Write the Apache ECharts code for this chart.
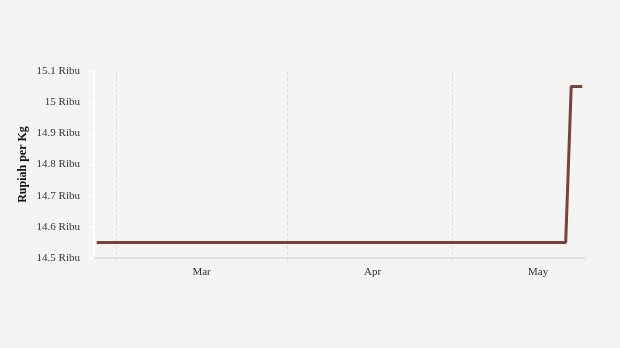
<!DOCTYPE html>
<html><head><meta charset="utf-8">
<script src="https://cdn.jsdelivr.net/npm/echarts@6/dist/echarts.min.js"></script>
<style>html,body{margin:0;padding:0;background:#f4f4f4}#c{width:620px;height:348px}</style>
</head><body><div id="c"></div>
<script>
const dates = [
 '2023-02-25','2023-02-26','2023-02-27','2023-02-28',
 '2023-03-01','2023-03-02','2023-03-03','2023-03-04','2023-03-05','2023-03-06','2023-03-07','2023-03-08','2023-03-09','2023-03-10',
 '2023-03-11','2023-03-12','2023-03-13','2023-03-14','2023-03-15','2023-03-16','2023-03-17','2023-03-18','2023-03-19','2023-03-20',
 '2023-03-21','2023-03-22','2023-03-23','2023-03-24','2023-03-25','2023-03-26','2023-03-27','2023-03-28','2023-03-29','2023-03-30','2023-03-31',
 '2023-04-01','2023-04-02','2023-04-03','2023-04-04','2023-04-05','2023-04-06','2023-04-07','2023-04-08','2023-04-09','2023-04-10',
 '2023-04-11','2023-04-12','2023-04-13','2023-04-14','2023-04-15','2023-04-16','2023-04-17','2023-04-18','2023-04-19','2023-04-20',
 '2023-04-21','2023-04-22','2023-04-23','2023-04-24','2023-04-25','2023-04-26','2023-04-27','2023-04-28','2023-04-29','2023-04-30',
 '2023-05-01','2023-05-02','2023-05-03','2023-05-04','2023-05-05','2023-05-06','2023-05-07','2023-05-08','2023-05-09','2023-05-10',
 '2023-05-11','2023-05-12','2023-05-13','2023-05-14','2023-05-15','2023-05-16','2023-05-17','2023-05-18','2023-05-19','2023-05-20',
 '2023-05-21','2023-05-22','2023-05-23','2023-05-24'
];
const prices = [
 14550,14550,14550,14550,
 14550,14550,14550,14550,14550,14550,14550,14550,14550,14550,
 14550,14550,14550,14550,14550,14550,14550,14550,14550,14550,
 14550,14550,14550,14550,14550,14550,14550,14550,14550,14550,14550,
 14550,14550,14550,14550,14550,14550,14550,14550,14550,14550,
 14550,14550,14550,14550,14550,14550,14550,14550,14550,14550,
 14550,14550,14550,14550,14550,14550,14550,14550,14550,14550,
 14550,14550,14550,14550,14550,14550,14550,14550,14550,14550,
 14550,14550,14550,14550,14550,14550,14550,14550,14550,14550,
 14550,15050,15050,15050
];
const monthNames = ['Jan','Feb','Mar','Apr','May','Jun','Jul','Aug','Sep','Oct','Nov','Dec'];
const yMin = 14500, yMax = 15100, yStep = 100;
const yName = 'Rupiah per Kg';

const chart = echarts.init(document.getElementById('c'), null, {renderer:'canvas'});
const isMonthStart = (i, v) => v.slice(8) === '01';
chart.setOption({
  backgroundColor: '#f4f4f4',
  animation: false,
  textStyle: {fontFamily: 'Liberation Serif'},
  grid: {left: 94, right: 35, top: 71, bottom: 90},
  xAxis: {
    type: 'category',
    data: dates,
    boundaryGap: true,
    axisLine: {show: true, lineStyle: {color: '#e2e2e2', width: 2}},
    axisTick: {show: true, interval: isMonthStart, length: 5, lineStyle: {color: '#dddddd', type: 'dashed'}},
    splitLine: {show: true, showMaxLine: false, interval: isMonthStart, lineStyle: {color: '#dddddd', type: 'dashed', width: 1}},
    axisLabel: {
      interval: (i, v) => v.slice(8) === '16',
      formatter: v => monthNames[parseInt(v.slice(5,7),10)-1],
      color: '#333', fontSize: 11, margin: 9, fontFamily: 'Liberation Serif'
    }
  },
  yAxis: {
    type: 'value',
    min: yMin, max: yMax, interval: yStep,
    name: yName,
    nameLocation: 'middle',
    nameGap: 65,
    nameMoveOverlap: false,
    nameTextStyle: {fontWeight: 'bold', fontSize: 12, color: '#111', fontFamily: 'Liberation Serif'},
    axisLine: {show: true, lineStyle: {color: '#ffffff', width: 2}},
    axisTick: {show: true, length: 5, lineStyle: {color: '#ffffff', width: 2}},
    splitLine: {show: false},
    axisLabel: {
      formatter: v => (v/1000) + ' Ribu',
      color: '#333', fontSize: 11, margin: 14, fontFamily: 'Liberation Serif'
    }
  },
  series: [{
    type: 'line',
    data: prices,
    symbol: 'none',
    lineStyle: {color: '#7b4238', width: 3},
    itemStyle: {color: '#7b4238'}
  }]
});
</script></body></html>
